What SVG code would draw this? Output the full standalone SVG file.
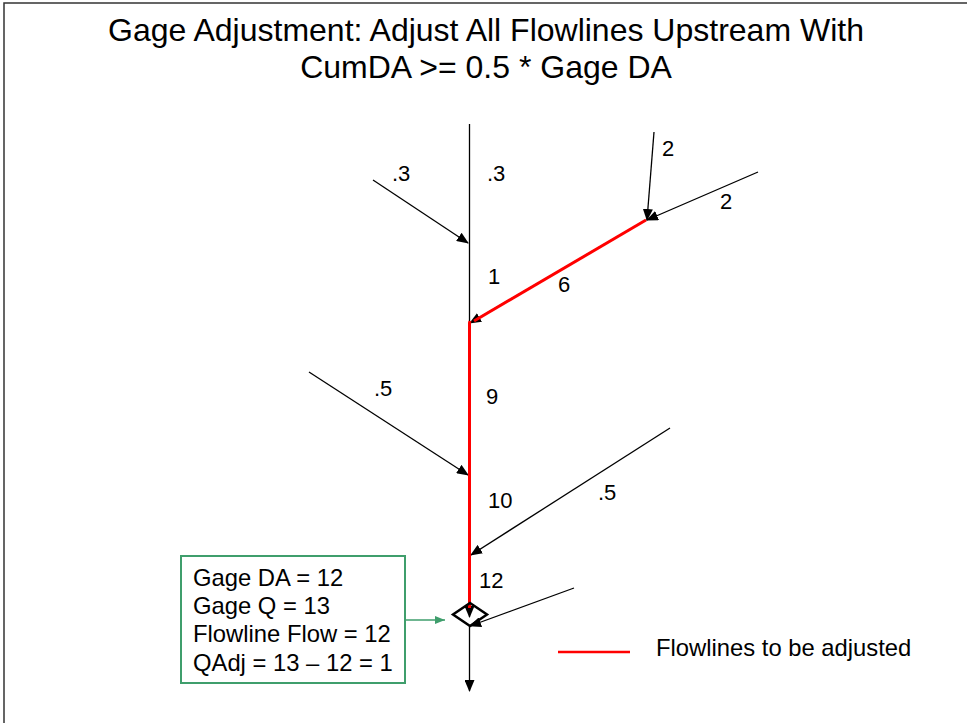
<svg xmlns="http://www.w3.org/2000/svg" width="967" height="723" viewBox="0 0 967 723">
<style>
text{font-family:"Liberation Sans",Arial,sans-serif;fill:#000}
.t{font-size:32px;text-anchor:middle}
.l{font-size:22px}
.b{font-size:23.8px}
.f{fill:none;stroke:#000;stroke-width:1.3}
.r{fill:none;stroke:#ff0000;stroke-width:3}
</style>
<defs>
<marker id="ah" markerUnits="userSpaceOnUse" markerWidth="12" markerHeight="10" viewBox="0 0 12 10" refX="11" refY="5" orient="auto">
<path d="M0,0 L12,5 L0,10 z" fill="#000"/>
</marker>
<marker id="gh" markerUnits="userSpaceOnUse" markerWidth="10" markerHeight="8" viewBox="0 0 10 8" refX="10" refY="4" orient="auto">
<path d="M0,0 L10,4 L0,8 z" fill="#3f9e6c"/>
</marker>
</defs>
<rect width="967" height="723" fill="#fff"/>
<path d="M4,723 V3 H967" fill="none" stroke="#333" stroke-width="1.5"/>
<g id="title">
<text class="t" x="486" y="41">Gage Adjustment: Adjust All Flowlines Upstream With</text>
<text class="t" x="486" y="78">CumDA &gt;= 0.5 * Gage DA</text>
</g>
<g id="connectors">
<line class="f" x1="469.5" y1="124" x2="469.5" y2="323"/>
<line class="f" x1="373" y1="180" x2="468" y2="243" marker-end="url(#ah)"/>
<line class="f" x1="654" y1="132" x2="647" y2="220" marker-end="url(#ah)"/>
<line class="f" x1="758" y1="172" x2="647" y2="220" marker-end="url(#ah)"/>
<line class="f" x1="646" y1="220" x2="470" y2="323" marker-end="url(#ah)"/>
<line class="r" x1="646" y1="220" x2="474" y2="321"/>
<line class="f" x1="309" y1="372" x2="468" y2="475" marker-end="url(#ah)"/>
<line class="f" x1="670" y1="428" x2="471" y2="555" marker-end="url(#ah)"/>
<line class="f" x1="469.5" y1="323" x2="469.5" y2="617" marker-end="url(#ah)"/>
<polyline class="r" points="470,321 469.5,323 469.5,608"/>
<line class="f" x1="574" y1="588" x2="470" y2="626" marker-end="url(#ah)"/>
<line class="f" x1="469.5" y1="625" x2="469.5" y2="691" marker-end="url(#ah)"/>
<line x1="405" y1="620" x2="445" y2="620" stroke="#3f9e6c" stroke-width="1.5" marker-end="url(#gh)"/>
</g>
<g id="gage">
<polygon points="470,603 487,614.5 470,626 453,614.5" fill="none" stroke="#000" stroke-width="2.5"/>
</g>
<g id="labels">
<text class="l" x="392" y="181">.3</text>
<text class="l" x="487" y="181">.3</text>
<text class="l" x="662" y="156">2</text>
<text class="l" x="720" y="209">2</text>
<text class="l" x="488" y="284">1</text>
<text class="l" x="558" y="292">6</text>
<text class="l" x="374" y="396">.5</text>
<text class="l" x="486" y="404">9</text>
<text class="l" x="598" y="500">.5</text>
<text class="l" x="488" y="508">10</text>
<text class="l" x="479" y="588">12</text>
</g>
<g id="infobox">
<rect x="181" y="556" width="224" height="127" fill="#fff" stroke="#3f9e6c" stroke-width="2"/>
<text class="b" x="193" y="586">Gage DA = 12</text>
<text class="b" x="193" y="614">Gage Q = 13</text>
<text class="b" x="193" y="642">Flowline Flow = 12</text>
<text class="b" x="193" y="671">QAdj = 13 – 12 = 1</text>
</g>
<g id="legend">
<line x1="558" y1="652" x2="630" y2="652" stroke="#ff0000" stroke-width="2.5"/>
<text class="b" x="656" y="656">Flowlines to be adjusted</text>
</g>
</svg>
